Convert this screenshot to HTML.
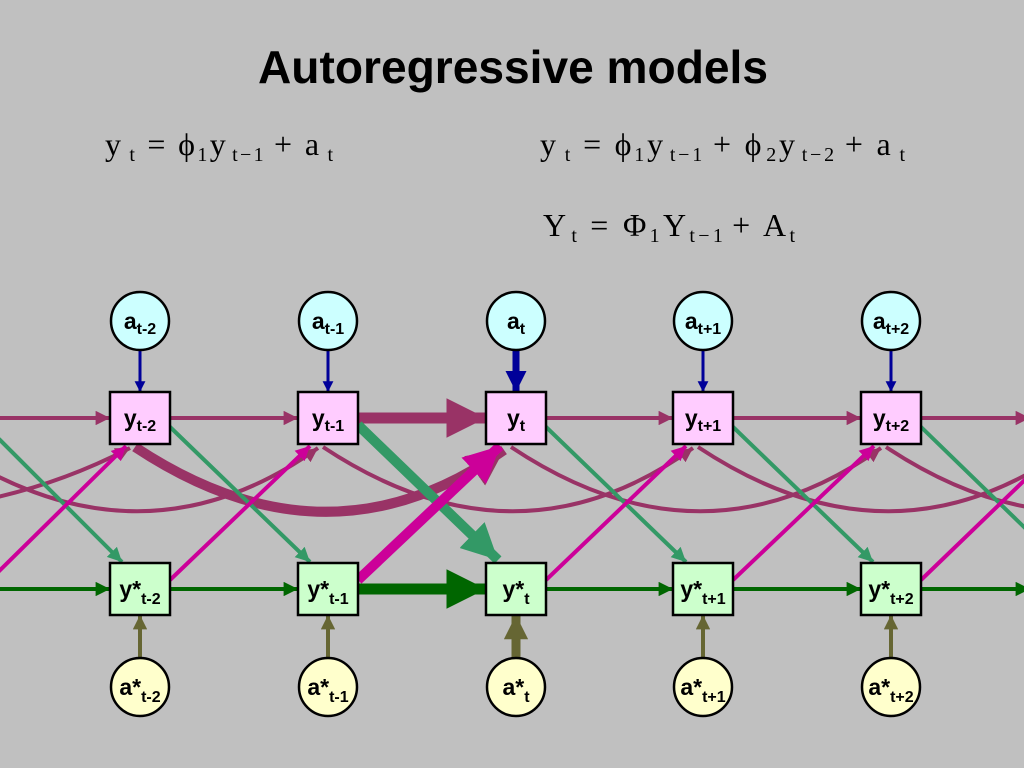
<!DOCTYPE html>
<html><head><meta charset="utf-8"><style>
body{margin:0;background:#c0c0c0;}
svg{display:block}
.t{font-family:"Liberation Sans",sans-serif;font-weight:bold;font-size:23px;fill:#000}
.s{font-size:16px}
.eq{font-family:"Liberation Serif",serif;font-size:32px;fill:#000}
.eq .s{font-size:20px}
</style></head><body>
<svg width="1024" height="768" viewBox="0 0 1024 768" xmlns="http://www.w3.org/2000/svg">
<defs>
<marker id="mb" viewBox="0 0 10 10" refX="10" refY="5" markerWidth="3.6" markerHeight="3.6" orient="auto"><path d="M0,0L10,5L0,10z" fill="#993366"/></marker>
<marker id="mg" viewBox="0 0 10 10" refX="10" refY="5" markerWidth="3.6" markerHeight="3.6" orient="auto"><path d="M0,0L10,5L0,10z" fill="#006600"/></marker>
<marker id="mt" viewBox="0 0 10 10" refX="10" refY="5" markerWidth="3.6" markerHeight="3.6" orient="auto"><path d="M0,0L10,5L0,10z" fill="#339966"/></marker>
<marker id="mm" viewBox="0 0 10 10" refX="10" refY="5" markerWidth="3.6" markerHeight="3.6" orient="auto"><path d="M0,0L10,5L0,10z" fill="#cc0099"/></marker>
<marker id="mu" viewBox="0 0 10 10" refX="10" refY="5" markerWidth="3.6" markerHeight="3.6" orient="auto"><path d="M0,0L10,5L0,10z" fill="#000099"/></marker>
<marker id="mu2" viewBox="0 0 10 10" refX="10" refY="5" markerWidth="3" markerHeight="3" orient="auto"><path d="M0,0L10,5L0,10z" fill="#000099"/></marker>
<marker id="mo" viewBox="0 0 10 10" refX="10" refY="5" markerWidth="3.6" markerHeight="3.6" orient="auto"><path d="M0,0L10,5L0,10z" fill="#666633"/></marker>
<marker id="mo2" viewBox="0 0 10 10" refX="10" refY="5" markerWidth="2.7" markerHeight="2.7" orient="auto"><path d="M0,0L10,5L0,10z" fill="#666633"/></marker>
</defs>
<text x="258" y="83" textLength="510" lengthAdjust="spacingAndGlyphs" style="font-family:'Liberation Sans',sans-serif;font-weight:bold;font-size:46px">Autoregressive models</text>
<text class="eq" x="105" y="155" textLength="228" lengthAdjust="spacing">y<tspan class="s" dx="6" dy="6">t</tspan><tspan dx="10" dy="-6">= ϕ</tspan><tspan class="s" dy="6">1</tspan><tspan dy="-6">y</tspan><tspan class="s" dx="4" dy="6">t−1</tspan><tspan dx="8" dy="-6">+ a</tspan><tspan class="s" dx="6" dy="6">t</tspan></text>
<text class="eq" x="540" y="155" textLength="365" lengthAdjust="spacing">y<tspan class="s" dx="6" dy="6">t</tspan><tspan dx="10" dy="-6">= ϕ</tspan><tspan class="s" dy="6">1</tspan><tspan dy="-6">y</tspan><tspan class="s" dx="4" dy="6">t−1</tspan><tspan dx="8" dy="-6">+ ϕ</tspan><tspan class="s" dx="2" dy="6">2</tspan><tspan dy="-6">y</tspan><tspan class="s" dx="4" dy="6">t−2</tspan><tspan dx="8" dy="-6">+ a</tspan><tspan class="s" dx="6" dy="6">t</tspan></text>
<text class="eq" x="543" y="236" textLength="252" lengthAdjust="spacing">Y<tspan class="s" dx="2" dy="6">t</tspan><tspan dx="10" dy="-6">= Φ</tspan><tspan class="s" dy="6">1</tspan><tspan dy="-6">Y</tspan><tspan class="s" dy="6">t−1</tspan><tspan dx="6" dy="-6">+ A</tspan><tspan class="s" dy="6">t</tspan></text>

<g fill="none" stroke-linecap="butt">
<g stroke="#993366" stroke-width="4" marker-end="url(#mb)">
<path d="M-100,510 Q20,505 130,448"/>
<path d="M-53,447 Q140,575 318,448"/>
<path d="M323,447 Q516,575 693,448"/>
<path d="M511,447 Q703,575 881,448"/>
<path d="M698,447 Q891,575 1069,448"/>
<path d="M886,447 Q1079,575 1257,448"/>
<path d="M135,447 Q328,575 504,450" stroke-width="10"/>
</g>
<g stroke="#993366" stroke-width="4" marker-end="url(#mb)">
<path d="M0,418H110"/><path d="M170,418H298"/><path d="M546,418H673"/><path d="M733,418H861"/><path d="M921,418H1030"/>
<path d="M358,418H486" stroke-width="11"/>
</g>
<g stroke="#006600" stroke-width="4" marker-end="url(#mg)">
<path d="M0,589H110"/><path d="M170,589H298"/><path d="M546,589H673"/><path d="M733,589H861"/><path d="M921,589H1030"/>
<path d="M358,589H486" stroke-width="11"/>
</g>
<g stroke="#339966" stroke-width="4" marker-end="url(#mt)">
<path d="M-10,430L122,562"/><path d="M168,425L310,562"/><path d="M544,425L686,562"/><path d="M731,425L873,562"/><path d="M919,425L1060,562"/>
<path d="M358,425L498,560" stroke-width="10"/>
</g>
<g stroke="#cc0099" stroke-width="4" marker-end="url(#mm)">
<path d="M-10,580L126,446"/><path d="M170,580L310,446"/><path d="M546,580L686,446"/><path d="M733,580L874,446"/><path d="M921,580L1060,446"/>
<path d="M358,580L500,446" stroke-width="10"/>
</g>
<g stroke="#000099" stroke-width="3" marker-end="url(#mu)">
<path d="M140,350V392"/><path d="M328,350V392"/><path d="M703,350V392"/><path d="M891,350V392"/>
<path d="M516,350V392" stroke-width="7" marker-end="url(#mu2)"/>
</g>
<g stroke="#666633" stroke-width="4" marker-end="url(#mo)">
<path d="M140,658V615"/><path d="M328,658V615"/><path d="M703,658V615"/><path d="M891,658V615"/>
<path d="M516,658V615" stroke-width="9" marker-end="url(#mo2)"/>
</g>
</g>

<g stroke="#000" stroke-width="2.5">
<g fill="#ccffff"><circle cx="140" cy="321" r="29"/><circle cx="328" cy="321" r="29"/><circle cx="516" cy="321" r="29"/><circle cx="703" cy="321" r="29"/><circle cx="891" cy="321" r="29"/></g>
<g fill="#ffccff"><rect x="110" y="392" width="60" height="52"/><rect x="298" y="392" width="60" height="52"/><rect x="486" y="392" width="60" height="52"/><rect x="673" y="392" width="60" height="52"/><rect x="861" y="392" width="60" height="52"/></g>
<g fill="#ccffcc"><rect x="110" y="563" width="60" height="52"/><rect x="298" y="563" width="60" height="52"/><rect x="486" y="563" width="60" height="52"/><rect x="673" y="563" width="60" height="52"/><rect x="861" y="563" width="60" height="52"/></g>
<g fill="#ffffcc"><circle cx="140" cy="687" r="29"/><circle cx="328" cy="687" r="29"/><circle cx="516" cy="687" r="29"/><circle cx="703" cy="687" r="29"/><circle cx="891" cy="687" r="29"/></g>
</g>

<g class="t" text-anchor="middle">
<text x="140" y="329">a<tspan class="s" dy="5">t-2</tspan></text>
<text x="328" y="329">a<tspan class="s" dy="5">t-1</tspan></text>
<text x="516" y="329">a<tspan class="s" dy="5">t</tspan></text>
<text x="703" y="329">a<tspan class="s" dy="5">t+1</tspan></text>
<text x="891" y="329">a<tspan class="s" dy="5">t+2</tspan></text>
<text x="140" y="426">y<tspan class="s" dy="5">t-2</tspan></text>
<text x="328" y="426">y<tspan class="s" dy="5">t-1</tspan></text>
<text x="516" y="426">y<tspan class="s" dy="5">t</tspan></text>
<text x="703" y="426">y<tspan class="s" dy="5">t+1</tspan></text>
<text x="891" y="426">y<tspan class="s" dy="5">t+2</tspan></text>
<text x="140" y="597">y*<tspan class="s" dy="7">t-2</tspan></text>
<text x="328" y="597">y*<tspan class="s" dy="7">t-1</tspan></text>
<text x="516" y="597">y*<tspan class="s" dy="7">t</tspan></text>
<text x="703" y="597">y*<tspan class="s" dy="7">t+1</tspan></text>
<text x="891" y="597">y*<tspan class="s" dy="7">t+2</tspan></text>
<text x="140" y="695">a*<tspan class="s" dy="7">t-2</tspan></text>
<text x="328" y="695">a*<tspan class="s" dy="7">t-1</tspan></text>
<text x="516" y="695">a*<tspan class="s" dy="7">t</tspan></text>
<text x="703" y="695">a*<tspan class="s" dy="7">t+1</tspan></text>
<text x="891" y="695">a*<tspan class="s" dy="7">t+2</tspan></text>
</g>
</svg>
</body></html>
